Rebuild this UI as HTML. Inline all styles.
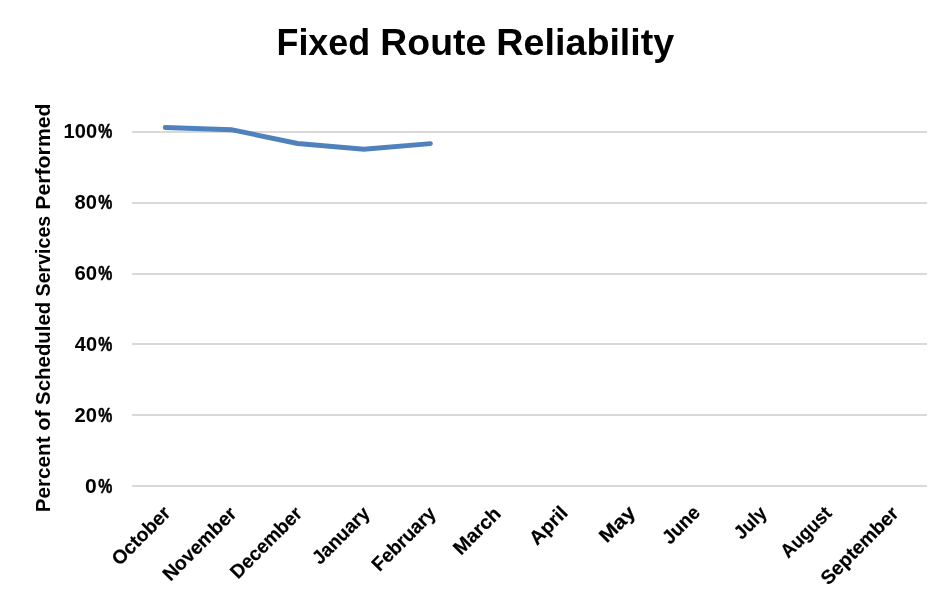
<!DOCTYPE html>
<html lang="en">
<head>
<meta charset="utf-8">
<title>Fixed Route Reliability</title>
<style>
html,body{margin:0;padding:0;background:#fff;}
body{width:944px;height:598px;overflow:hidden;}
svg{display:block;}
text{font-family:"Liberation Sans", sans-serif;font-weight:bold;fill:#000;}
</style>
</head>
<body>
<svg width="944" height="598" viewBox="0 0 944 598">
<rect x="0" y="0" width="944" height="598" fill="#ffffff"/>
<!-- horizontal gridlines -->
<g fill="#d9d9d9">
<rect x="132" y="131" width="795" height="2"/>
<rect x="132" y="202" width="795" height="2"/>
<rect x="132" y="273" width="795" height="2"/>
<rect x="132" y="343" width="795" height="2"/>
<rect x="132" y="414" width="795" height="2"/>
<rect x="132" y="485" width="795" height="2"/>
</g>
<!-- data series -->
<polyline fill="none" stroke="#4f81bd" stroke-width="4.9" stroke-linecap="round" stroke-linejoin="miter" points="165.2,127.5 231.4,129.7 297.6,143.5 363.9,149.3 430.4,143.6"/>
<!-- chart title -->
<text y="54.80" font-size="37.5"><tspan x="276.49" textLength="93.70" lengthAdjust="spacingAndGlyphs">Fixed</tspan> <tspan x="380.32" textLength="105.92" lengthAdjust="spacingAndGlyphs">Route</tspan> <tspan x="496.36" textLength="177.92" lengthAdjust="spacingAndGlyphs">Reliability</tspan></text>
<!-- value axis labels -->
<text y="138.00" font-size="19.8"><tspan x="63.64" textLength="33.52" lengthAdjust="spacingAndGlyphs">100</tspan><tspan x="98.20" textLength="14.07" lengthAdjust="spacingAndGlyphs" stroke="#000" stroke-width="0.5">%</tspan></text>
<text y="209.00" font-size="19.8"><tspan x="74.63" textLength="22.41" lengthAdjust="spacingAndGlyphs">80</tspan><tspan x="98.20" textLength="14.07" lengthAdjust="spacingAndGlyphs" stroke="#000" stroke-width="0.5">%</tspan></text>
<text y="280.00" font-size="19.8"><tspan x="74.56" textLength="22.62" lengthAdjust="spacingAndGlyphs">60</tspan><tspan x="98.20" textLength="14.07" lengthAdjust="spacingAndGlyphs" stroke="#000" stroke-width="0.5">%</tspan></text>
<text y="351.00" font-size="19.8"><tspan x="74.87" textLength="22.23" lengthAdjust="spacingAndGlyphs">40</tspan><tspan x="98.20" textLength="14.07" lengthAdjust="spacingAndGlyphs" stroke="#000" stroke-width="0.5">%</tspan></text>
<text y="422.00" font-size="19.8"><tspan x="74.64" textLength="22.41" lengthAdjust="spacingAndGlyphs">20</tspan><tspan x="98.20" textLength="14.07" lengthAdjust="spacingAndGlyphs" stroke="#000" stroke-width="0.5">%</tspan></text>
<text y="493.00" font-size="19.8"><tspan x="85.05" textLength="11.75" lengthAdjust="spacingAndGlyphs">0</tspan><tspan x="98.20" textLength="14.07" lengthAdjust="spacingAndGlyphs" stroke="#000" stroke-width="0.5">%</tspan></text>
<!-- value axis title -->
<text transform="translate(50.10 0) rotate(-90)" y="0" font-size="20.7"><tspan x="-512.29" textLength="75.85" lengthAdjust="spacingAndGlyphs">Percent</tspan> <tspan x="-430.77" textLength="20.65" lengthAdjust="spacingAndGlyphs">of</tspan> <tspan x="-404.88" textLength="103.16" lengthAdjust="spacingAndGlyphs">Scheduled</tspan> <tspan x="-296.46" textLength="80.74" lengthAdjust="spacingAndGlyphs">Services</tspan> <tspan x="-209.75" textLength="106.35" lengthAdjust="spacingAndGlyphs">Performed</tspan></text>
<!-- category axis labels -->
<text transform="translate(171.61 514.31) rotate(-45)" x="-73.85" y="0" font-size="19.4" textLength="73.85" lengthAdjust="spacingAndGlyphs" stroke="#000" stroke-width="0.2">October</text>
<text transform="translate(237.68 514.87) rotate(-45)" x="-95.10" y="0" font-size="19.4" textLength="95.10" lengthAdjust="spacingAndGlyphs" stroke="#000" stroke-width="0.2">November</text>
<text transform="translate(303.28 514.65) rotate(-45)" x="-92.21" y="0" font-size="19.4" textLength="92.21" lengthAdjust="spacingAndGlyphs" stroke="#000" stroke-width="0.2">December</text>
<text transform="translate(370.86 514.58) rotate(-45)" x="-72.08" y="0" font-size="19.4" textLength="72.08" lengthAdjust="spacingAndGlyphs" stroke="#000" stroke-width="0.2">January</text>
<text transform="translate(436.99 514.83) rotate(-45)" x="-81.28" y="0" font-size="19.4" textLength="81.28" lengthAdjust="spacingAndGlyphs" stroke="#000" stroke-width="0.2">February</text>
<text transform="translate(501.92 514.96) rotate(-45)" x="-57.91" y="0" font-size="19.4" textLength="57.91" lengthAdjust="spacingAndGlyphs" stroke="#000" stroke-width="0.2">March</text>
<text transform="translate(568.87 514.08) rotate(-45)" x="-44.97" y="0" font-size="19.4" textLength="44.97" lengthAdjust="spacingAndGlyphs" stroke="#000" stroke-width="0.2">April</text>
<text transform="translate(636.67 513.74) rotate(-45)" x="-42.46" y="0" font-size="19.4" textLength="42.46" lengthAdjust="spacingAndGlyphs" stroke="#000" stroke-width="0.2">May</text>
<text transform="translate(701.29 513.79) rotate(-45)" x="-44.41" y="0" font-size="19.4" textLength="44.41" lengthAdjust="spacingAndGlyphs" stroke="#000" stroke-width="0.2">June</text>
<text transform="translate(767.91 514.33) rotate(-45)" x="-36.87" y="0" font-size="19.4" textLength="36.87" lengthAdjust="spacingAndGlyphs" stroke="#000" stroke-width="0.2">July</text>
<text transform="translate(832.80 514.54) rotate(-45)" x="-62.89" y="0" font-size="19.4" textLength="62.89" lengthAdjust="spacingAndGlyphs" stroke="#000" stroke-width="0.2">August</text>
<text transform="translate(899.72 514.60) rotate(-45)" x="-100.84" y="0" font-size="19.4" textLength="100.84" lengthAdjust="spacingAndGlyphs" stroke="#000" stroke-width="0.2">September</text>
</svg>
</body>
</html>
